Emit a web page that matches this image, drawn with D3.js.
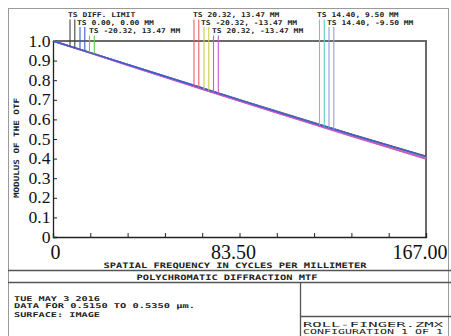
<!DOCTYPE html>
<html><head><meta charset="utf-8">
<script src="https://cdn.jsdelivr.net/npm/d3@7"></script>
<style>
html,body{margin:0;padding:0;background:#fff;}
svg{display:block;}
.mono{font-family:"DejaVu Sans Mono",monospace;font-weight:bold;fill:#222;}
.thin{font-family:"DejaVu Sans Mono",monospace;font-weight:normal;fill:#222;}
.num{font-family:"Liberation Serif","Times New Roman",serif;fill:#111;}
</style></head>
<body>
<svg id="c" width="451" height="336"></svg>
<script>
// ---- data ----
const frequencies = [0, 16.7, 33.4, 50.1, 66.8, 83.5, 100.2, 116.9, 133.6, 150.3, 167.0];
const diffLimit   = [1.000, 0.941, 0.881, 0.821, 0.761, 0.701, 0.642, 0.583, 0.525, 0.468, 0.412];
const field00     = [1.000, 0.941, 0.880, 0.820, 0.760, 0.700, 0.640, 0.581, 0.523, 0.466, 0.410];
const fieldM2013  = [1.000, 0.940, 0.879, 0.818, 0.758, 0.698, 0.638, 0.579, 0.521, 0.463, 0.406];
const fieldP2013  = [1.000, 0.939, 0.877, 0.816, 0.755, 0.694, 0.634, 0.575, 0.516, 0.458, 0.400];
const fieldM20M13 = [1.000, 0.940, 0.878, 0.817, 0.757, 0.696, 0.636, 0.577, 0.519, 0.461, 0.404];
const fieldP20M13 = [1.000, 0.938, 0.876, 0.815, 0.754, 0.693, 0.633, 0.573, 0.514, 0.456, 0.398];
const field1495   = [1.000, 0.940, 0.879, 0.819, 0.759, 0.699, 0.639, 0.580, 0.522, 0.465, 0.408];
const field14M95  = [1.000, 0.940, 0.879, 0.818, 0.758, 0.698, 0.638, 0.579, 0.521, 0.464, 0.406];
const seriesNames = ["TS DIFF. LIMIT","TS 0.00, 0.00 MM","TS -20.32, 13.47 MM","TS 20.32, 13.47 MM",
                     "TS -20.32, -13.47 MM","TS 20.32, -13.47 MM","TS 14.40, 9.50 MM","TS 14.40, -9.50 MM"];
const seriesValues = [diffLimit, field00, fieldM2013, fieldP2013, fieldM20M13, fieldP20M13, field1495, field14M95];
const seriesColors = ["#444444","#3a5bd0","#6cc85a","#ee5a64","#cccc4a","#c45ccc","#5ccccc","#9a9ade"];
const yTicks = [0,0.1,0.2,0.3,0.4,0.5,0.6,0.7,0.8,0.9,1.0];
const yTickLabels = ["0","0.1","0.2","0.3","0.4","0.5","0.6","0.7","0.8","0.9","1.0"];
const xTickLabels = ["0","83.50","167.00"];
const xLabelValues = [0, 83.5, 167];
const xMinorTicks = d3.range(0, 11).map(i => i * 16.7);

// ---- layout ----
const svg = d3.select("#c");
const L = 53, R = 426, T = 41, B = 237;
const x = d3.scaleLinear().domain([0,167]).range([L,R]);
const y = d3.scaleLinear().domain([0,1]).range([B,T]);

// outer frame & boxes
const g0 = svg.append("g").attr("fill","none");
g0.append("rect").attr("x",8.5).attr("y",8.5).attr("width",440).attr("height",340).attr("stroke","#9a9a9a").attr("stroke-width",1);
g0.append("line").attr("x1",8).attr("x2",451).attr("y1",270.5).attr("y2",270.5).attr("stroke","#555").attr("stroke-width",1.3);
g0.append("line").attr("x1",8).attr("x2",451).attr("y1",282.5).attr("y2",282.5).attr("stroke","#555").attr("stroke-width",1.3);
g0.append("line").attr("x1",300.5).attr("x2",300.5).attr("y1",282.5).attr("y2",336).attr("stroke","#555").attr("stroke-width",1.3);
g0.append("line").attr("x1",300.5).attr("x2",451).attr("y1",316.5).attr("y2",316.5).attr("stroke","#555").attr("stroke-width",1.3);

// plot frame
svg.append("line").attr("x1",L).attr("x2",R+1).attr("y1",T).attr("y2",T).attr("stroke","#6a6a6a").attr("stroke-width",2);
svg.append("line").attr("x1",R).attr("x2",R).attr("y1",T).attr("y2",B).attr("stroke","#6a6a6a").attr("stroke-width",2);

// axes
const yAxis = d3.axisRight(y).tickValues(yTicks).tickSize(4).tickFormat("");
const gy = svg.append("g").attr("transform",`translate(${L},0)`).call(yAxis);
gy.select(".domain").attr("stroke","#222").attr("stroke-width",1.3);
gy.selectAll(".tick line").attr("stroke","#222");
const xAxis = d3.axisTop(x).tickValues(xMinorTicks).tickSize(4).tickFormat("");
const gx = svg.append("g").attr("transform",`translate(0,${B})`).call(xAxis);
gx.select(".domain").attr("stroke","#222").attr("stroke-width",1.3);
gx.selectAll(".tick line").attr("stroke","#222");

// numeric labels
svg.append("g").selectAll("text").data(yTicks).join("text")
  .attr("class","num").attr("font-size",17.6).attr("text-anchor","end")
  .attr("x",L-2.5).attr("y",d=>y(d)+(d===0?5.5:5.5)).text((d,i)=>yTickLabels[i]);
svg.append("g").selectAll("text").data(xLabelValues).join("text")
  .attr("class","num").attr("font-size",20).attr("text-anchor","middle")
  .attr("x",(d,i)=>x(d)+(i===0?2.5:-6)).attr("y",258.5).text((d,i)=>xTickLabels[i]);

// curves
const line = d3.line().x((d,i)=>x(frequencies[i])).y(d=>y(d));
const drawOrder = [0,2,4,6,7,3,5,1];
svg.append("g").attr("fill","none").selectAll("path").data(drawOrder).join("path")
  .attr("d",k=>line(seriesValues[k])).attr("stroke",k=>seriesColors[k]).attr("stroke-width",1.4);

// legend markers
function valAt(vals, f){
  const i = Math.min(frequencies.length-2, Math.max(0, d3.bisectRight(frequencies, f)-1));
  const t = (f-frequencies[i])/(frequencies[i+1]-frequencies[i]);
  return vals[i] + t*(vals[i+1]-vals[i]);
}
const legendGroups = [
  {series:[0,1,2], textX:[68,77,89], lineX:[70,80,89.5]},
  {series:[3,4,5], textX:[193,201,212], lineX:[194,204,213.5]},
  {series:[6,7],   textX:[317,327],   lineX:[319.5,329]}
];
const rowBase = [17,24.5,33], rowTop = [19.5,27,35.5];
const lg = svg.append("g");
legendGroups.forEach(gr=>{
  gr.series.forEach((k,r)=>{
    [0,4.8].forEach(off=>{
      const px = gr.lineX[r]+off;
      const v = valAt(seriesValues[k], x.invert(px));
      lg.append("line").attr("x1",px).attr("x2",px).attr("y1",rowTop[r]).attr("y2",y(v))
        .attr("stroke",seriesColors[k]).attr("stroke-width",1.1);
    });
    const name = seriesNames[k];
    lg.append("text").attr("class","mono").attr("font-size",6.6)
      .attr("x",gr.textX[r]).attr("y",rowBase[r])
      .attr("textLength",name.length*4.8).attr("lengthAdjust","spacingAndGlyphs").text(name);
  });
});

// titles & info text
function mtext(str, xx, yy, len, cls, anchor, size){
  return svg.append("text").attr("class",cls||"mono").attr("font-size",size||7.4)
    .attr("x",xx).attr("y",yy).attr("text-anchor",anchor||"start")
    .attr("textLength",len).attr("lengthAdjust","spacingAndGlyphs").text(str);
}
mtext("SPATIAL FREQUENCY IN CYCLES PER MILLIMETER", 235, 267.5, 263, "mono", "middle");
mtext("POLYCHROMATIC DIFFRACTION MTF", 227, 279.5, 181, "mono", "middle");
mtext("TUE MAY 3 2016", 14, 301, 86, "mono", "start", 6.7);
mtext("DATA FOR 0.5150 TO 0.5350 \u00b5m.", 14, 308, 181, "mono", "start", 6.7);
mtext("SURFACE: IMAGE", 14, 316.5, 86, "mono", "start", 6.7);
mtext("ROLL-FINGER.ZMX", 303, 326.5, 140, "thin", "start", 6.8);
mtext("CONFIGURATION 1 OF 1", 303, 334, 140, "thin", "start", 6.8);
svg.append("text").attr("class","mono").attr("font-size",7.4)
  .attr("transform","translate(18.5,148) rotate(-90)").attr("text-anchor","middle")
  .attr("textLength",100).attr("lengthAdjust","spacingAndGlyphs").text("MODULUS OF THE OTF");
</script>
</body></html>
